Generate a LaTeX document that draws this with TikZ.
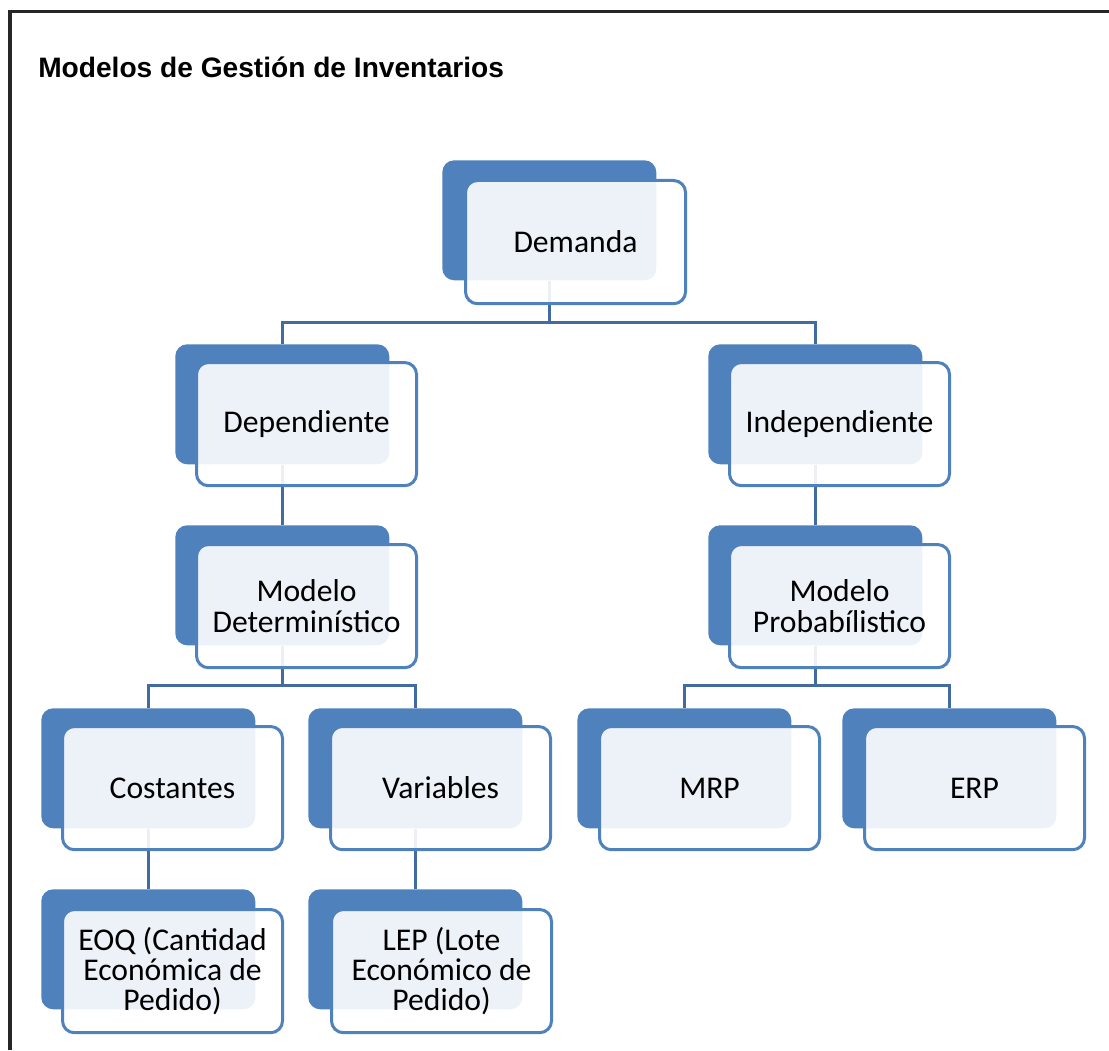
\documentclass[tikz,border=0pt]{standalone}
\usepackage{fontspec}
\setmainfont{Carlito}
\newfontfamily\titlefont{Liberation Sans}
\usetikzlibrary{backgrounds}
\definecolor{azul}{RGB}{79,129,189}
\definecolor{linea}{RGB}{66,108,160}

\begin{document}
\begin{tikzpicture}[
                x = 0.025cm, y = -0.025cm,
                B/.style = {anchor=north west, fill=azul, rounded corners=0.3cm,
                            minimum width=5.35cm, minimum height=3cm, inner sep=0pt},
                F/.style = {anchor=north west, draw=azul, line width=0.075cm,
                            fill=white, fill opacity=0.9, text opacity=1,
                            rounded corners=0.3cm, minimum width=5.5cm, minimum height=3.08cm,
                            inner sep=0pt, align=center, font=\fontsize{22.5}{21.6}\selectfont},
                E/.style = {draw=linea, line width=0.09cm}
                    ]
                \useasboundingbox (0,0) rectangle (1109,1050);
                \draw[line width=0.075cm, black!85] (10,1050) |- (1109,12);
                \node[anchor=base west, inner sep=0pt,
                      font=\titlefont\bfseries\fontsize{20}{24}\selectfont] (titulo) at (38,78)
                      {Modelos de Gestión de Inventarios};
                \node[B] (dem-b) at (442,160) {};
                \node[F] (dem) at (464,179) {Demanda};
                \node[B] (dep-b) at (175,344) {};
                \node[F] (dep) at (195,361) {Dependiente};
                \node[B] (ind-b) at (708,344) {};
                \node[F] (ind) at (728,361) {Independiente};
                \node[B] (det-b) at (175,525) {};
                \node[F] (det) at (195,543) {Modelo\\Determinístico};
                \node[B] (prob-b) at (708,525) {};
                \node[F] (prob) at (728,543) {Modelo\\Probabílistico};
                \node[B] (cost-b) at (41,708) {};
                \node[F] (cost) at (61,725) {Costantes};
                \node[B] (var-b) at (308,708) {};
                \node[F] (var) at (329,725) {Variables};
                \node[B] (mrp-b) at (577,708) {};
                \node[F] (mrp) at (598,725) {MRP};
                \node[B] (erp-b) at (842,708) {};
                \node[F] (erp) at (863,725) {ERP};
                \node[B] (eoq-b) at (41,889) {};
                \node[F] (eoq) at (61,908) {EOQ (Cantidad\\Económica de\\Pedido)};
                \node[B] (lep-b) at (308,889) {};
                \node[F] (lep) at (330,908) {LEP (Lote\\Económico de\\Pedido)};
                \begin{scope}[on background layer]
                \draw[E] (dem-b.south) -- ++(0,42) coordinate (r1) -| (dep-b.north) (r1) -| (ind-b.north);
                \draw[E] (dep-b.south) -- (det-b.north);
                \draw[E] (ind-b.south) -- (prob-b.north);
                \draw[E] (det-b.south) -- ++(0,40) coordinate (r2) -| (cost-b.north) (r2) -| (var-b.north);
                \draw[E] (prob-b.south) -- ++(0,40) coordinate (r3) -| (mrp-b.north) (r3) -| (erp-b.north);
                \draw[E] (cost-b.south) -- (eoq-b.north);
                \draw[E] (var-b.south) -- (lep-b.north);
                \end{scope}
            \end{tikzpicture}
\end{document}
